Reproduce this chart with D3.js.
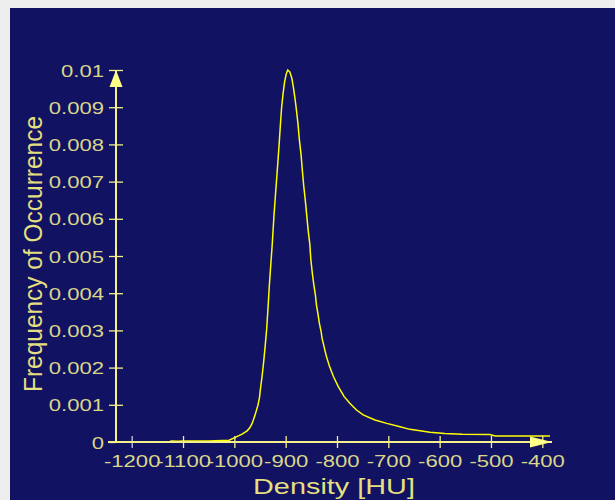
<!DOCTYPE html>
<html>
<head>
<meta charset="utf-8">
<script src="https://cdn.jsdelivr.net/npm/d3@7"></script>
<style>
  html, body { margin: 0; padding: 0; background: #eeeeee; }
  svg { display: block; }
  text { font-family: "Liberation Sans", Arial, sans-serif; }
</style>
</head>
<body>
<svg id="chart" width="615" height="500"></svg>
<script>
// ---- data ----
const densityHU = [-1125, -1110, -1100, -1050, -1010, -985, -975, -970, -966, -963, -960, -957, -954, -951, -949, -946, -943, -940, -937, -934.5, -932, -929, -926, -923, -919.5, -916, -913, -910.5, -908, -905, -902, -899, -896, -892, -888, -885, -882, -879, -876, -873.5, -870, -867.5, -865, -862, -859, -856, -853, -851, -848, -845, -842, -840, -837, -834.5, -831, -829, -826, -823, -820, -817, -815, -807, -797.5, -786, -775, -762, -749, -726, -703, -677, -658, -638, -619, -590, -556, -502, -492, -385];
const frequency = [0.00003, 0.00002, 0.00003, 0.00003, 0.00005, 0.00021, 0.00030, 0.00038, 0.00048, 0.00059, 0.00071, 0.00085, 0.00099, 0.0012, 0.00145, 0.00176, 0.00214, 0.00257, 0.00304, 0.00358, 0.00417, 0.00477, 0.00535, 0.00605, 0.00672, 0.00737, 0.00795, 0.00848, 0.00898, 0.00938, 0.00969, 0.00989, 0.0100, 0.00995, 0.00978, 0.00953, 0.00925, 0.00892, 0.00855, 0.00815, 0.00772, 0.0073, 0.00691, 0.00653, 0.0061, 0.00567, 0.00532, 0.00491, 0.00453, 0.00421, 0.00394, 0.00368, 0.00344, 0.0032, 0.00297, 0.00278, 0.00261, 0.00243, 0.00227, 0.00214, 0.00205, 0.00176, 0.00149, 0.00122, 0.00104, 0.00086, 0.00073, 0.00059, 0.0005, 0.00041, 0.00034, 0.0003, 0.00026, 0.00023, 0.00021, 0.0002, 0.00016, 0.00016];
const xTickValues = [-1200, -1100, -1000, -900, -800, -700, -600, -500, -400];
const yTickValues = [0, 0.001, 0.002, 0.003, 0.004, 0.005, 0.006, 0.007, 0.008, 0.009, 0.01];
const xTitle = "Density [HU]";
const yTitle = "Frequency of Occurrence";

// ---- drawing ----
const svg = d3.select("#chart");
const panelColor = "#111262";
const axisColor = "#f4f08a";
const labelColor = "#dad68a";
const titleColor = "#e4df80";
const curveColor = "#ffff00";
const stretch = 1.38;

svg.append("rect").attr("x", 10).attr("y", 8).attr("width", 605).attr("height", 492).attr("fill", panelColor);

const x = d3.scaleLinear().domain([-1200, -400]).range([131.7, 542.3]);
const y = d3.scaleLinear().domain([0, 0.01]).range([442, 70]);

// curve
const pts = densityHU.map((d, i) => [d, frequency[i]]);
svg.append("path")
  .datum(pts)
  .attr("fill", "none")
  .attr("stroke", curveColor)
  .attr("stroke-width", 1.5)
  .attr("d", d3.line().x(d => x(d[0])).y(d => y(d[1])));

// x axis
const gx = svg.append("g").attr("transform", `translate(0,${y(0)})`)
  .call(d3.axisBottom(x).tickValues(xTickValues).tickSize(6).tickFormat(d3.format("d")));
gx.select(".domain").remove();
gx.selectAll(".tick line").attr("y1", -6).attr("y2", 6).attr("stroke", axisColor).attr("stroke-width", 1.3);
gx.selectAll(".tick").filter(d => d === -1200).select("line").attr("stroke", "#c9c3e6");
gx.selectAll(".tick text")
  .attr("y", 0).attr("dy", null)
  .attr("transform", `translate(0,25) scale(${stretch},1)`)
  .attr("fill", labelColor).attr("font-size", 16)
  .text(d => String(d));
gx.append("line").attr("x1", 108).attr("x2", 552).attr("y1", 0).attr("y2", 0)
  .attr("stroke", axisColor).attr("stroke-width", 2);
gx.append("path").attr("d", "M530,-5.5L552,0L530,5.5Z").attr("fill", "#ffff88");

// y axis
const gy = svg.append("g").attr("transform", `translate(${x(-1200) - 15.7},0)`)
  .call(d3.axisLeft(y).tickValues(yTickValues).tickSize(7)
    .tickFormat(d => d === 0 ? "0" : String(+d.toFixed(3))));
gy.select(".domain").remove();
gy.selectAll(".tick line").attr("x1", -7).attr("x2", 7).attr("stroke", axisColor).attr("stroke-width", 1.3);
gy.selectAll(".tick").filter(d => d === 0).select("line").attr("x2", 0);
gy.selectAll(".tick text")
  .attr("x", 0).attr("dy", "0.38em")
  .attr("transform", `translate(-12,0) scale(${stretch},1)`)
  .attr("fill", labelColor).attr("font-size", 16);
gy.append("line").attr("x1", 0).attr("x2", 0).attr("y1", y(0)).attr("y2", y(0.01))
  .attr("stroke", axisColor).attr("stroke-width", 2);
gy.append("path").attr("d", `M0,${y(0.01)}L6.5,${y(0.01) + 17}L-6.5,${y(0.01) + 17}Z`).attr("fill", "#ffff88");

// titles
svg.append("text")
  .attr("x", 334).attr("y", 494)
  .attr("text-anchor", "middle")
  .attr("font-size", 22)
  .attr("fill", titleColor)
  .attr("textLength", 162).attr("lengthAdjust", "spacingAndGlyphs")
  .text(xTitle);

svg.append("text")
  .attr("transform", "translate(42,254) rotate(-90)")
  .attr("text-anchor", "middle")
  .attr("font-size", 26)
  .attr("fill", titleColor)
  .attr("textLength", 276).attr("lengthAdjust", "spacingAndGlyphs")
  .text(yTitle);
</script>
</body>
</html>
